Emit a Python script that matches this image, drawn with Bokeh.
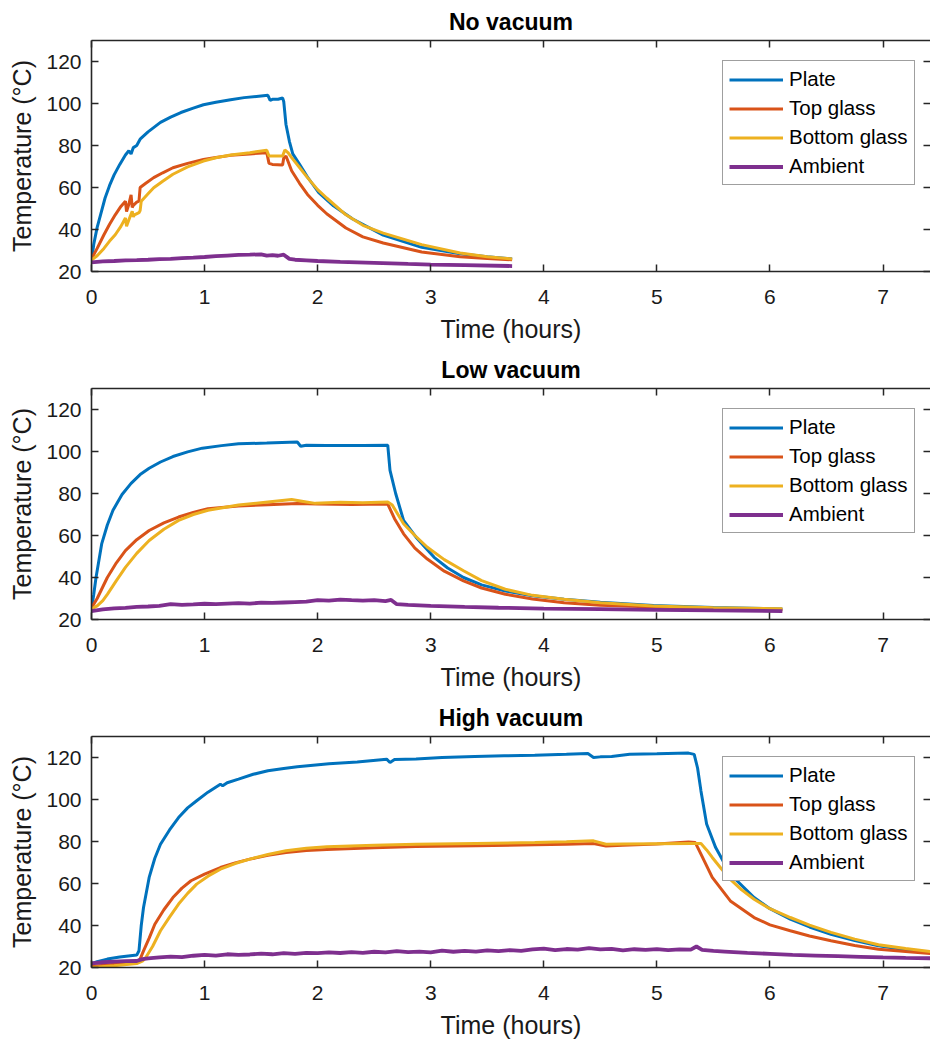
from bokeh.plotting import figure
from bokeh.models import LinearAxis, Legend, LegendItem, Range1d, FixedTicker
from bokeh.layouts import column
from bokeh.embed import file_html
from bokeh.resources import INLINE

# ---------------- data ----------------
series_names = ["Plate", "Top glass", "Bottom glass", "Ambient"]
series_colors = ["#0072BD", "#D95319", "#EDB120", "#7E2F8E"]
panel_titles = ["No vacuum", "Low vacuum", "High vacuum"]
x_ticks = [0, 1, 2, 3, 4, 5, 6, 7]
y_ticks = [20, 40, 60, 80, 100, 120]

# No vacuum
nv_plate_t = [0, 0.02, 0.05, 0.08, 0.12, 0.16, 0.20, 0.25, 0.30, 0.33, 0.35, 0.37, 0.40, 0.43, 0.50, 0.61, 0.70, 0.79,
              0.90, 0.99, 1.10, 1.23, 1.35, 1.50, 1.56, 1.58, 1.60, 1.65, 1.69, 1.70, 1.72, 1.75, 1.78, 1.84, 1.91,
              2.01, 2.14, 2.31, 2.58, 2.92, 3.26, 3.50, 3.72]
nv_plate = [25, 33, 41, 47, 55, 61, 66, 71, 75.5, 77.5, 76, 79, 80, 83, 86.5, 91, 93.5, 95.7, 97.8, 99.4, 100.6,
            101.8, 102.8, 103.6, 103.9, 101.5, 102, 102, 102.6, 101, 90, 82, 76, 71, 65, 57.5, 51.3, 45, 37.3,
            31.5, 28.5, 27, 26]
nv_top_t = [0, 0.05, 0.11, 0.16, 0.21, 0.26, 0.30, 0.31, 0.33, 0.35, 0.36, 0.37, 0.40, 0.42, 0.43, 0.48, 0.55, 0.63,
            0.72, 0.85, 0.99, 1.10, 1.23, 1.40, 1.55, 1.57, 1.60, 1.69, 1.70, 1.72, 1.77, 1.84, 1.91, 2.00, 2.08,
            2.25, 2.40, 2.58, 2.92, 3.26, 3.50, 3.72]
nv_top = [26, 31, 37.5, 42.5, 47, 51, 53.5, 48.5, 52, 56.5, 50.5, 51.5, 53, 53.5, 60, 62, 64.7, 67, 69.4, 71.5, 73.3,
          74.3, 75.3, 76, 76.6, 71.5, 71, 70.7, 74, 75, 68, 62, 56.7, 51.5, 47.5, 40.7, 36.5, 33.6, 29.3, 27, 26.2,
          25.6]
nv_bot_t = [0, 0.05, 0.11, 0.16, 0.21, 0.26, 0.30, 0.31, 0.33, 0.36, 0.37, 0.38, 0.42, 0.43, 0.44, 0.50, 0.55, 0.63,
            0.72, 0.85, 0.99, 1.10, 1.23, 1.40, 1.55, 1.57, 1.60, 1.69, 1.71, 1.74, 1.77, 1.84, 1.91, 2.00, 2.08,
            2.25, 2.40, 2.58, 2.92, 3.26, 3.50, 3.72]
nv_bot = [25.5, 27.5, 31, 34.5, 37.5, 41.5, 45.5, 41.5, 44.5, 48.7, 46, 47, 48, 49, 53.5, 57, 59.9, 63, 66.3, 69.8,
          72.6, 74.2, 75.5, 76.6, 77.7, 75, 75, 75, 77.9, 76.5, 74.2, 69.5, 64.7, 59, 55, 47, 42, 38.3, 32.8, 28.8,
          27, 26]
nv_amb_t = [0, 0.1, 0.2, 0.3, 0.4, 0.5, 0.6, 0.7, 0.8, 0.9, 1.0, 1.1, 1.2, 1.3, 1.4, 1.5, 1.55, 1.6, 1.65, 1.7,
            1.75, 1.8, 1.9, 2.0, 2.2, 2.5, 2.8, 3.0, 3.3, 3.72]
nv_amb = [24.3, 24.8, 25, 25.3, 25.4, 25.6, 25.9, 26, 26.4, 26.6, 26.9, 27.3, 27.6, 27.9, 28, 28.2, 27.6, 27.8, 27.5,
          28, 26, 25.6, 25.3, 25, 24.6, 24.1, 23.6, 23.3, 23, 22.6]

# Low vacuum
lv_plate_t = [0, 0.02, 0.04, 0.09, 0.14, 0.19, 0.27, 0.35, 0.43, 0.51, 0.61, 0.72, 0.85, 0.98, 1.15, 1.30, 1.55,
              1.82, 1.85, 1.90, 2.08, 2.40, 2.62, 2.64, 2.69, 2.76, 2.87, 3.03, 3.15, 3.29, 3.45, 3.66, 3.90, 4.18,
              4.50, 4.97, 5.50, 6.11]
lv_plate = [25, 32, 40, 56, 65, 72, 79.5, 84.8, 89, 92, 95, 97.6, 99.8, 101.6, 102.8, 103.7, 104, 104.5, 102.5, 103,
            102.9, 102.8, 103, 91, 80, 67.2, 59.2, 49.6, 44.5, 40, 36.5, 33.6, 31.3, 29.6, 28.2, 26.7, 25.7, 25]
lv_top_t = [0, 0.05, 0.14, 0.22, 0.30, 0.40, 0.51, 0.64, 0.77, 0.90, 1.03, 1.30, 1.56, 1.82, 2.0, 2.3, 2.62, 2.68,
            2.76, 2.86, 2.97, 3.12, 3.29, 3.45, 3.66, 3.90, 4.18, 4.50, 4.97, 5.50, 6.11]
lv_top = [25.5, 30, 40, 47, 52.8, 58, 62.4, 66, 68.8, 71, 72.8, 74, 74.7, 75.2, 75, 74.8, 75, 68, 60.8, 54, 48.8, 43,
          38.4, 35, 32, 29.8, 28, 26.8, 25.9, 25.2, 24.6]
lv_bot_t = [0, 0.05, 0.10, 0.14, 0.22, 0.30, 0.40, 0.51, 0.64, 0.77, 0.90, 1.03, 1.30, 1.56, 1.77, 1.90, 1.98, 2.2,
            2.4, 2.62, 2.66, 2.76, 2.86, 2.97, 3.12, 3.29, 3.45, 3.66, 3.90, 4.18, 4.50, 4.97, 5.50, 6.11]
lv_bot = [25, 26.5, 29, 32, 38.5, 44.8, 51.5, 57.6, 63, 67.2, 70, 72, 74.5, 76, 77.1, 76, 75.3, 75.8, 75.6, 76, 74.5,
          65.6, 60, 54.4, 48.5, 43.2, 38.5, 34.4, 31.5, 29.6, 28, 26.4, 25.6, 25.1]
lv_amb_t = [0, 0.1, 0.2, 0.3, 0.4, 0.5, 0.6, 0.7, 0.8, 0.9, 1.0, 1.1, 1.2, 1.3, 1.4, 1.5, 1.6, 1.7, 1.8, 1.9, 2.0,
            2.1, 2.2, 2.3, 2.4, 2.5, 2.6, 2.65, 2.7, 2.8, 3.0, 3.3, 3.6, 4.0, 4.5, 5.0, 5.5, 6.11]
lv_amb = [24, 24.8, 25.3, 25.5, 26, 26.2, 26.5, 27.3, 27, 27.2, 27.5, 27.3, 27.6, 27.8, 27.6, 28, 27.9, 28.1, 28.3,
          28.5, 29.2, 29, 29.5, 29.2, 29, 29.2, 28.8, 29.3, 27.3, 27, 26.5, 26, 25.6, 25.2, 24.9, 24.6, 24.3, 24]

# High vacuum
hv_plate_t = [0, 0.05, 0.14, 0.25, 0.40, 0.42, 0.44, 0.46, 0.51, 0.56, 0.61, 0.69, 0.77, 0.85, 0.93, 1.03, 1.14,
              1.16, 1.20, 1.30, 1.43, 1.56, 1.70, 1.82, 2.1, 2.35, 2.61, 2.64, 2.68, 2.87, 3.1, 3.39, 3.65, 3.92,
              4.2, 4.39, 4.44, 4.50, 4.60, 4.76, 5.0, 5.28, 5.33, 5.36, 5.39, 5.44, 5.52, 5.65, 5.86, 6.0, 6.18,
              6.35, 6.54, 6.75, 6.96, 7.2, 7.42]
hv_plate = [21.8, 22.8, 24, 25, 25.9, 28, 40, 48.6, 62.9, 72, 78.7, 85.5, 91.4, 96, 99.4, 103.5, 107.3, 106.5, 108,
            109.7, 112, 113.7, 114.8, 115.6, 117, 117.9, 119.2, 117.6, 119, 119.3, 120, 120.5, 120.8, 121.1, 121.5,
            121.9, 120, 120.3, 120.5, 121.6, 121.8, 122.1, 121.5, 115, 104.1, 88.3, 77.1, 64.4, 53.3, 48, 43,
            39.3, 35.8, 32.8, 30.3, 28.5, 27.1]
hv_top_t = [0, 0.2, 0.40, 0.43, 0.46, 0.51, 0.56, 0.64, 0.72, 0.80, 0.88, 1.0, 1.14, 1.27, 1.40, 1.56, 1.72, 1.9,
            2.08, 2.5, 2.87, 3.4, 3.92, 4.2, 4.44, 4.55, 4.7, 5.0, 5.28, 5.34, 5.39, 5.49, 5.65, 5.86, 6.0, 6.18,
            6.35, 6.54, 6.75, 6.96, 7.2, 7.42]
hv_top = [20.5, 21.5, 22.4, 24, 27.9, 34, 40.6, 47.5, 53.3, 57.8, 61.3, 64.5, 67.6, 69.8, 71.6, 73.4, 74.8, 75.7,
          76.2, 77, 77.6, 78, 78.4, 78.7, 79, 77.9, 78.2, 78.8, 79.8, 79.5, 74, 62.9, 51.7, 43.8, 40.3, 37.5, 35,
          32.7, 30.5, 28.7, 27.6, 26.7]
hv_bot_t = [0, 0.2, 0.40, 0.45, 0.48, 0.54, 0.61, 0.69, 0.77, 0.85, 0.93, 1.03, 1.14, 1.27, 1.40, 1.56, 1.72, 1.9,
            2.08, 2.5, 2.87, 3.4, 3.92, 4.2, 4.44, 4.55, 4.7, 5.0, 5.31, 5.39, 5.44, 5.49, 5.57, 5.65, 5.75, 5.86,
            6.0, 6.18, 6.35, 6.54, 6.75, 6.96, 7.2, 7.42]
hv_bot = [20, 20.8, 21.9, 23, 24.8, 30, 37.5, 44, 50.2, 55.3, 59.7, 63.5, 66.8, 69.5, 71.6, 73.8, 75.6, 76.8, 77.5,
          78.2, 78.7, 79.1, 79.5, 79.9, 80.3, 78.7, 78.8, 78.9, 79, 79, 76, 72.4, 67, 62, 57, 52.5, 48, 43.8, 40.2,
          36.7, 33.5, 30.8, 29, 27.6]
hv_amb_t = [0, 0.1, 0.2, 0.3, 0.4, 0.45, 0.5, 0.6, 0.7, 0.8, 0.9, 1.0, 1.1, 1.2, 1.3, 1.4, 1.5, 1.6, 1.7, 1.8, 1.9,
            2.0, 2.1, 2.2, 2.3, 2.4, 2.5, 2.6, 2.7, 2.8, 2.9, 3.0, 3.1, 3.2, 3.3, 3.4, 3.5, 3.6, 3.7, 3.8, 3.9, 4.0,
            4.1, 4.2, 4.3, 4.4, 4.5, 4.6, 4.7, 4.8, 4.9, 5.0, 5.1, 5.2, 5.3, 5.35, 5.4, 5.5, 5.6, 5.8, 6.0, 6.2,
            6.4, 6.6, 6.8, 7.0, 7.2, 7.42]
hv_amb = [22, 22.5, 22.8, 23, 23.1, 24, 24.3, 24.8, 25.2, 24.9, 25.6, 26, 25.7, 26.3, 26, 26.2, 26.6, 26.3, 26.8,
          26.5, 27, 26.8, 27.2, 26.9, 27.3, 27, 27.5, 27.2, 27.8, 27.3, 27.6, 27.2, 28, 27.5, 27.9, 27.6, 28.2,
          27.8, 28.3, 27.9, 28.6, 29, 28.3, 28.8, 28.5, 29.2, 28.6, 28.9, 28.2, 28.7, 28.4, 28.8, 28.3, 28.6, 28.5,
          30, 28.4, 27.9, 27.6, 27, 26.5, 26, 25.7, 25.4, 25.1, 24.8, 24.6, 24.4]

panels = [
    [(nv_plate_t, nv_plate), (nv_top_t, nv_top), (nv_bot_t, nv_bot), (nv_amb_t, nv_amb)],
    [(lv_plate_t, lv_plate), (lv_top_t, lv_top), (lv_bot_t, lv_bot), (lv_amb_t, lv_amb)],
    [(hv_plate_t, hv_plate), (hv_top_t, hv_top), (hv_bot_t, hv_bot), (hv_amb_t, hv_amb)],
]

FONT = "Liberation Sans"
AX = "#262626"


def style_axis(ax, labels=True):
    ax.axis_line_color = AX
    ax.axis_line_width = 1.6
    ax.major_tick_line_color = AX
    ax.major_tick_line_width = 1.5
    ax.major_tick_in = 7
    ax.major_tick_out = 0
    ax.minor_tick_line_color = None
    ax.major_label_text_font = FONT
    ax.major_label_text_color = "#1a1a1a"
    ax.axis_label_text_font = FONT
    ax.axis_label_text_color = "#1a1a1a"
    ax.axis_label_text_font_style = "normal"
    if not labels:
        ax.major_label_text_font_size = "0px"
        ax.major_label_standoff = 0
        ax.axis_label = None


def make_panel(title, data, height, bottom):
    p = figure(width=930, height=height, output_backend="svg", toolbar_location=None,
               x_range=Range1d(0, 7.42), y_range=Range1d(20, 130),
               min_border_left=91, min_border_right=0, min_border_top=40, min_border_bottom=bottom)
    p.outline_line_color = None
    p.grid.visible = False
    p.background_fill_color = "white"
    p.border_fill_color = "white"

    p.title.text = title
    p.title.align = "center"
    p.title.text_font = FONT
    p.title.text_font_size = "23px"
    p.title.text_font_style = "bold"
    p.title.text_color = "black"
    p.title.standoff = 11

    xa = p.xaxis[0]
    ya = p.yaxis[0]
    xa.ticker = FixedTicker(ticks=x_ticks)
    ya.ticker = FixedTicker(ticks=y_ticks)
    style_axis(xa)
    style_axis(ya)
    xa.axis_label = "Time (hours)"
    ya.axis_label = "Temperature (°C)"
    xa.major_label_text_font_size = "21px"
    ya.major_label_text_font_size = "21px"
    xa.axis_label_text_font_size = "25px"
    ya.axis_label_text_font_size = "25px"
    xa.major_label_standoff = 18
    ya.major_label_standoff = 10
    xa.axis_label_standoff = 8
    ya.axis_label_standoff = 7

    top = LinearAxis(ticker=FixedTicker(ticks=x_ticks))
    style_axis(top, labels=False)
    p.add_layout(top, "above")
    right = LinearAxis(ticker=FixedTicker(ticks=y_ticks))
    style_axis(right, labels=False)
    right.axis_line_color = None
    p.add_layout(right, "right")

    items = []
    for (tx, ty), name, col in zip(data, series_names, series_colors):
        lw = 3.8 if name == "Ambient" else 3
        r = p.line(tx, ty, line_color=col, line_width=lw)
        items.append(LegendItem(label=name, renderers=[r]))

    leg = Legend(items=items, location=(631, 86))
    leg.label_text_font = FONT
    leg.label_text_font_size = "20.5px"
    leg.label_text_color = "black"
    leg.glyph_width = 54
    leg.glyph_height = 21
    leg.label_height = 21
    leg.label_standoff = 6
    leg.spacing = 5
    leg.padding = 6
    leg.margin = 0
    leg.border_line_color = "#404040"
    leg.border_line_width = 1
    leg.background_fill_color = "white"
    leg.background_fill_alpha = 1
    p.add_layout(leg, "center")
    return p


p1 = make_panel(panel_titles[0], panels[0], 348, 77)
p2 = make_panel(panel_titles[1], panels[1], 348, 77)
p3 = make_panel(panel_titles[2], panels[2], 346, 75)

layout = column(p1, p2, p3, spacing=0)
open("out.html", "w").write(file_html(layout, INLINE))
